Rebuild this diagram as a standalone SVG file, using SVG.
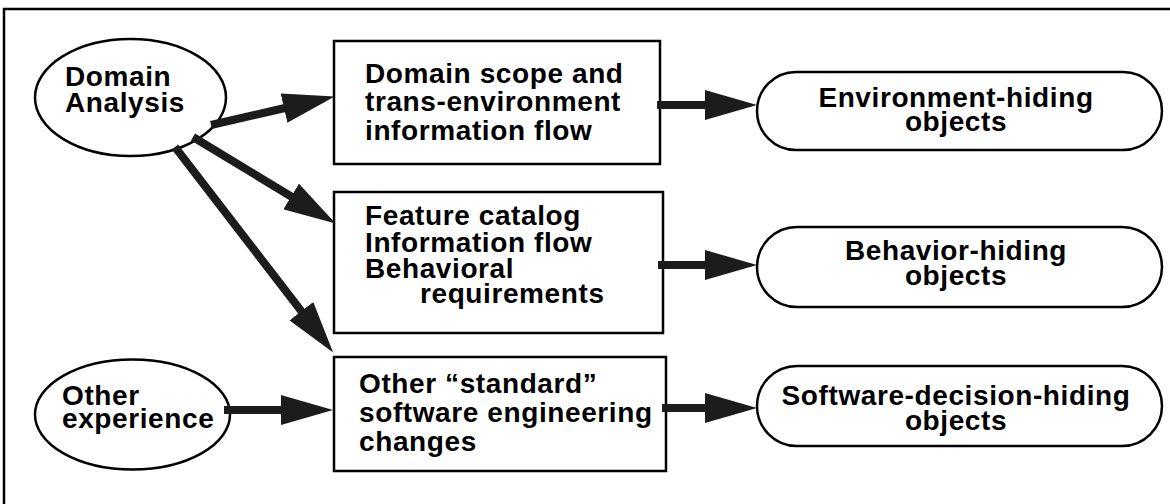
<svg xmlns="http://www.w3.org/2000/svg" width="1170" height="504" viewBox="0 0 1170 504">
  <style>
    .frame { fill: none; stroke: #000; stroke-width: 2.5; }
    .node { fill: #fff; stroke: #000; stroke-width: 2.5; }
    .label { font-family: "Liberation Sans", Arial, Helvetica, sans-serif; font-weight: bold; font-size: 28px; letter-spacing: 0.6px; fill: #000; }
    .mid { text-anchor: middle; }
    .edge { stroke: #1c1c1c; stroke-width: 8; fill: none; marker-end: url(#head); }
  </style>
  <defs>
    <marker id="head" viewBox="0 0 52 30" refX="1" refY="15" markerWidth="52" markerHeight="30" markerUnits="userSpaceOnUse" orient="auto">
      <path d="M0,0 L52,15 L0,30 Z" fill="#1c1c1c"/>
    </marker>
  </defs>

  <rect width="1170" height="504" fill="#fff"/>
  <path class="frame" d="M4,506 V9 H1172"/>

  <g id="domain-analysis">
    <ellipse class="node" cx="130.5" cy="97.5" rx="95.5" ry="58.5"/>
    <text class="label" x="65" y="86">Domain</text>
    <text class="label" x="65" y="112">Analysis</text>
  </g>

  <g id="other-experience">
    <ellipse class="node" cx="132.5" cy="414.5" rx="97.5" ry="55"/>
    <text class="label" x="62" y="405">Other</text>
    <text class="label" x="62" y="428">experience</text>
  </g>

  <g id="domain-scope">
    <rect class="node" x="334" y="41" width="326" height="123"/>
    <text class="label" x="365" y="83">Domain scope and</text>
    <text class="label" x="365" y="111">trans-environment</text>
    <text class="label" x="365" y="140">information flow</text>
  </g>

  <g id="feature-catalog">
    <rect class="node" x="334" y="192" width="329" height="141"/>
    <text class="label" x="365" y="225">Feature catalog</text>
    <text class="label" x="365" y="252">Information flow</text>
    <text class="label" x="365" y="278">Behavioral</text>
    <text class="label" x="420" y="303">requirements</text>
  </g>

  <g id="standard-changes">
    <rect class="node" x="334" y="357" width="332" height="114"/>
    <text class="label" x="359" y="393">Other “standard”</text>
    <text class="label" x="359" y="422">software engineering</text>
    <text class="label" x="359" y="451">changes</text>
  </g>

  <g id="environment-hiding">
    <rect class="node" x="757" y="72" width="405" height="78" rx="39" ry="39"/>
    <text class="label mid" x="956" y="107">Environment-hiding</text>
    <text class="label mid" x="956" y="131">objects</text>
  </g>

  <g id="behavior-hiding">
    <rect class="node" x="757" y="227" width="405" height="80" rx="40" ry="40"/>
    <text class="label mid" x="956" y="260">Behavior-hiding</text>
    <text class="label mid" x="956" y="285">objects</text>
  </g>

  <g id="software-decision-hiding">
    <rect class="node" x="757" y="366" width="405" height="80" rx="40" ry="40"/>
    <text class="label mid" x="956" y="405">Software-decision-hiding</text>
    <text class="label mid" x="956" y="430">objects</text>
  </g>

  <g id="connectors">
    <line class="edge" x1="211" y1="125" x2="285" y2="108"/>
    <line class="edge" x1="193" y1="137" x2="292" y2="197"/>
    <line class="edge" x1="175" y1="147" x2="302" y2="312"/>
    <line class="edge" x1="224" y1="410" x2="282" y2="410"/>
    <line class="edge" x1="657" y1="105" x2="706" y2="105"/>
    <line class="edge" x1="658" y1="265" x2="706" y2="265"/>
    <line class="edge" x1="662" y1="408" x2="706" y2="408"/>
  </g>
</svg>
